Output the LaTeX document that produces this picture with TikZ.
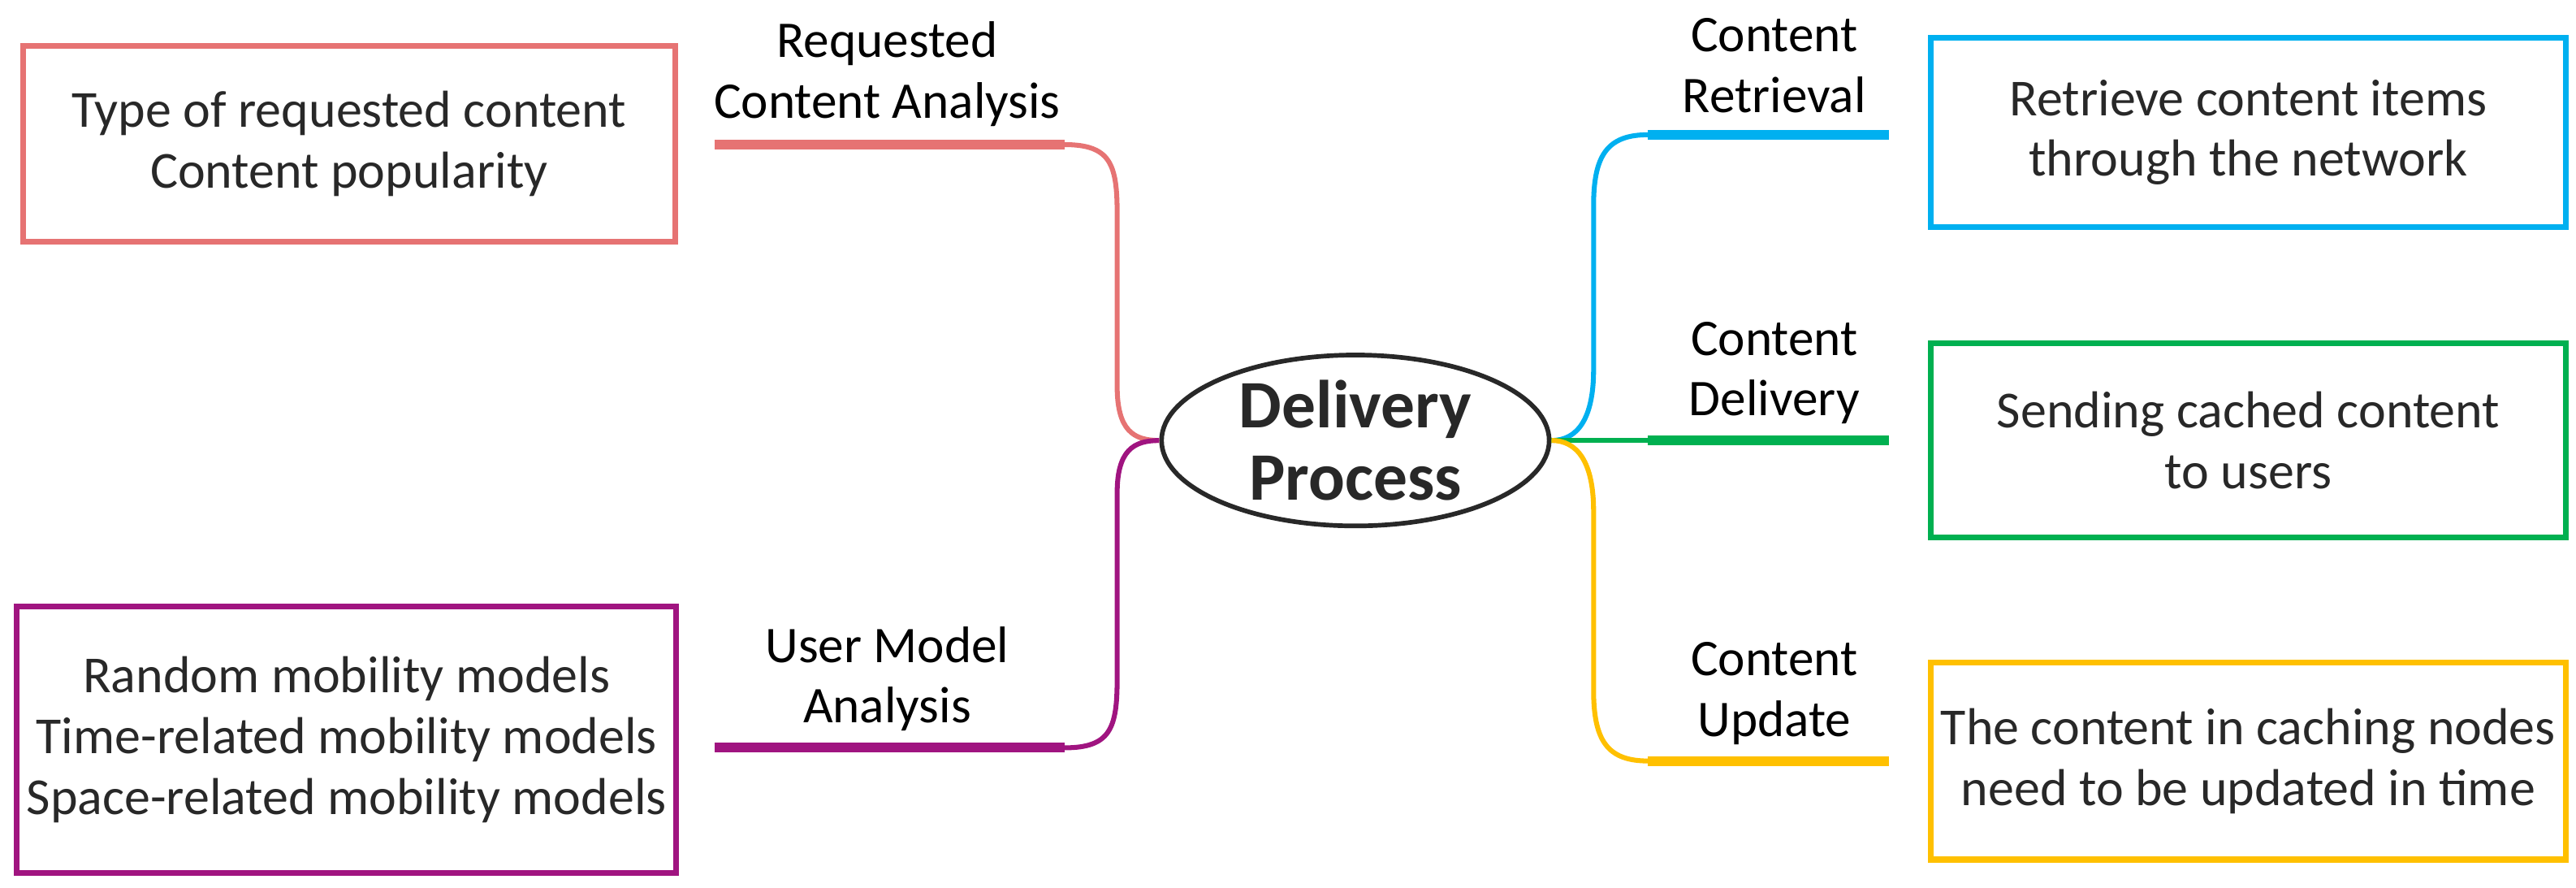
\documentclass[tikz,border=0pt]{standalone}
\usetikzlibrary{shapes.geometric}
\usepackage{fontspec}
\setmainfont{Carlito}
\definecolor{cred}{RGB}{230,115,115}
\definecolor{cpur}{RGB}{160,20,128}
\definecolor{cblu}{RGB}{0,176,240}
\definecolor{cgrn}{RGB}{0,176,80}
\definecolor{cyel}{RGB}{255,192,0}
\definecolor{ctxt}{RGB}{40,40,40}
\begin{document}
\begin{tikzpicture}[x=0.02cm,y=-0.02cm,
  box/.style={draw,line width=2pt,minimum width=7.74cm,align=center,font=\fontsize{18}{21}\selectfont,text=ctxt},
  lab/.style={align=center,font=\fontsize{17.8}{21}\selectfont,text=black},
  thick line/.style={line width=3.4pt},
  thin line/.style={line width=1.7pt}]
\useasboundingbox (0,0) rectangle (1568,540);
\node[draw=ctxt,line width=1.6pt,ellipse,minimum width=4.72cm,minimum height=2.08cm,inner sep=0,align=center,font=\bfseries\fontsize{23.5}{25}\selectfont,text=ctxt] (c) at (825,268) {Delivery\\Process};
% red
\node[box,draw=cred,minimum width=7.94cm,minimum height=2.38cm] (rb) at (212.5,87.5) {Type of requested content\\Content popularity};
\coordinate (r1) at (435,88); \coordinate (r2) at (648,88);
\draw[cred,thick line] (r1) -- (r2);
\draw[cred,thin line] (r2) .. controls (676,88) and (680,100) .. (680,130) -- (680,235) .. controls (680,262) and (690,268) .. (c.west);
\node[lab] (rl) at (540,45) {Requested\\Content Analysis};
% purple
\node[box,draw=cpur,minimum width=7.96cm,minimum height=3.24cm] (pb) at (211,450) {Random mobility models\\Time-related mobility models\\Space-related mobility models};
\coordinate (p1) at (435,455); \coordinate (p2) at (648,455);
\draw[cpur,thick line] (p1) -- (p2);
\draw[cpur,thin line] (p2) .. controls (676,455) and (680,443) .. (680,413) -- (680,300) .. controls (680,274) and (690,268) .. (c.west);
\node[lab] (pl) at (540,413) {User Model\\Analysis};
% blue
\node[box,draw=cblu,minimum width=7.74cm,minimum height=2.3cm] (bb) at (1368.5,80.5) {Retrieve content items\\through the network};
\coordinate (b1) at (1003,82); \coordinate (b2) at (1150,82);
\draw[cblu,thick line] (b1) -- (b2);
\draw[cblu,thin line] (c.east) .. controls (960,268) and (970,255) .. (970,225) -- (970,125) .. controls (970,95) and (978,82) .. (b1);
\node[lab] (bl) at (1080,40) {Content\\Retrieval};
% green
\node[box,draw=cgrn,minimum width=7.74cm,minimum height=2.36cm] (gb) at (1368.5,268) {Sending cached content\\to users};
\coordinate (g1) at (1003,268); \coordinate (g2) at (1150,268);
\draw[cgrn,thick line] (g1) -- (g2);
\draw[cgrn,thin line] (c.east) -- (g1);
\node[lab] (gl) at (1080,227) {Content\\Delivery};
% yellow
\node[box,draw=cyel,minimum width=7.74cm,minimum height=2.4cm] (yb) at (1368.5,463) {The content in caching nodes\\need to be updated in time};
\coordinate (y1) at (1003,463); \coordinate (y2) at (1150,463);
\draw[cyel,thick line] (y1) -- (y2);
\draw[cyel,thin line] (c.east) .. controls (960,268) and (970,281) .. (970,311) -- (970,420) .. controls (970,450) and (978,463) .. (y1);
\node[lab] (yl) at (1080,422) {Content\\Update};
\end{tikzpicture}
\end{document}
